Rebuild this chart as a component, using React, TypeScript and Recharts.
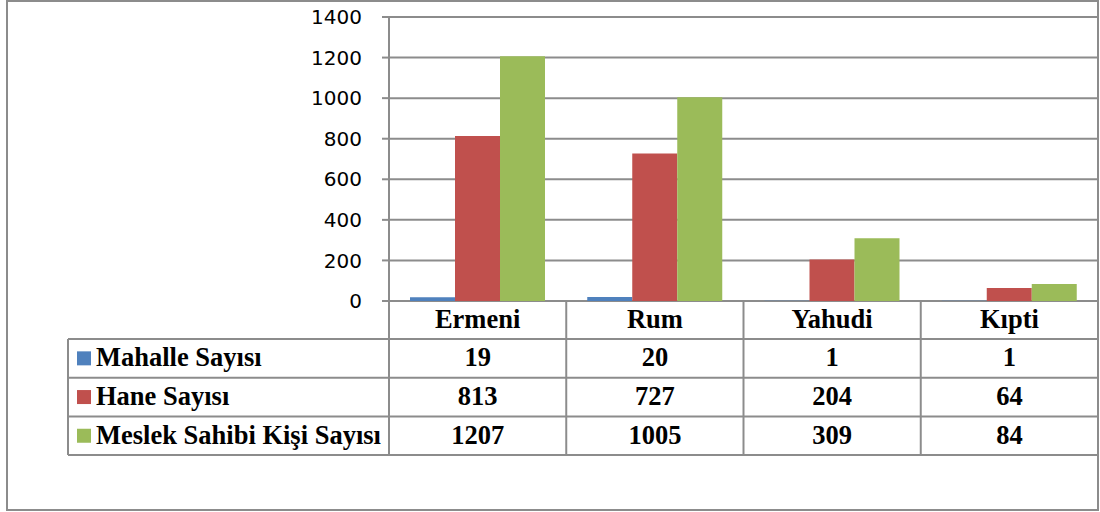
import React from "react";
import { BarChart, Bar, XAxis, YAxis, CartesianGrid } from "recharts";

const categories = ["Ermeni", "Rum", "Yahudi", "Kıpti"];
const mahalleSayisi = [19, 20, 1, 1];
const haneSayisi = [813, 727, 204, 64];
const meslekSahibi = [1207, 1005, 309, 84];
const yTicks = [0, 200, 400, 600, 800, 1000, 1200, 1400];

const series = [
  { key: "mahalle", name: "Mahalle Sayısı", color: "#4F81BD", values: mahalleSayisi },
  { key: "hane", name: "Hane Sayısı", color: "#C0504D", values: haneSayisi },
  { key: "meslek", name: "Meslek Sahibi Kişi Sayısı", color: "#9BBB59", values: meslekSahibi },
];

const data = categories.map((name, i) => ({
  name,
  mahalle: mahalleSayisi[i],
  hane: haneSayisi[i],
  meslek: meslekSahibi[i],
}));

const W = 1100;
const H = 512;
const PLOT_LEFT = 389;
const PLOT_RIGHT = 1098;
const PLOT_TOP = 17;
const PLOT_BOTTOM = 301;
const Y_AXIS_W = 60;
const X_AXIS_H = 160;
const HEADER_H = 38;
const ROW_H = 38.7;
const TABLE_LEFT = 68;
const LINE = "#8c8c8c";
const SERIF = "'Liberation Serif', 'Times New Roman', serif";
const SANS = "'DejaVu Sans', sans-serif";
const TABLE_FONT = 26.5;

const bandW = (PLOT_RIGHT - PLOT_LEFT) / categories.length;

// each x tick draws one column of the data table under the plot
function TableColumnTick(props: any) {
  const { x, payload } = props;
  const i = payload.index;
  const left = x - bandW / 2;
  const right = x + bandW / 2;
  const bottom = PLOT_BOTTOM + HEADER_H + ROW_H * series.length;
  return (
    <g>
      <line x1={right} y1={PLOT_BOTTOM} x2={right} y2={bottom} stroke={LINE} strokeWidth={2} />
      <text
        x={x}
        y={PLOT_BOTTOM + HEADER_H / 2 + 8}
        textAnchor="middle"
        fontFamily={SERIF}
        fontWeight="bold"
        fontSize={TABLE_FONT}
        fill="#000"
      >
        {payload.value}
      </text>
      {series.map((s, r) => (
        <text
          key={s.key}
          x={x}
          y={PLOT_BOTTOM + HEADER_H + ROW_H * r + ROW_H / 2 + 8}
          textAnchor="middle"
          fontFamily={SERIF}
          fontWeight="bold"
          fontSize={TABLE_FONT}
          fill="#000"
        >
          {s.values[i]}
        </text>
      ))}
      {i === 0 && (
        <line x1={left} y1={PLOT_BOTTOM} x2={left} y2={bottom} stroke={LINE} strokeWidth={2} />
      )}
    </g>
  );
}

export default function App() {
  const tableBottom = PLOT_BOTTOM + HEADER_H + ROW_H * series.length;
  return (
    <div style={{ position: "absolute", left: 0, top: 0, width: W, height: H, background: "#fff" }}>
      <div
        style={{
          position: "absolute",
          left: 6,
          top: 0,
          width: 1093,
          height: 511,
          border: `2px solid ${LINE}`,
          boxSizing: "border-box",
        }}
      />
      <div style={{ position: "absolute", left: 0, top: 0 }}>
        <BarChart
          width={W}
          height={H}
          data={data}
          barGap={0}
          barSize={45}
          margin={{
            top: PLOT_TOP,
            right: W - PLOT_RIGHT,
            left: PLOT_LEFT - Y_AXIS_W,
            bottom: H - PLOT_BOTTOM - X_AXIS_H,
          }}
        >
          <CartesianGrid vertical={false} stroke={LINE} strokeWidth={2} />
          <YAxis
            width={Y_AXIS_W}
            domain={[0, 1400]}
            ticks={yTicks}
            interval={0}
            tickSize={7}
            tickMargin={20}
            axisLine={{ stroke: LINE, strokeWidth: 2 }}
            tickLine={{ stroke: LINE, strokeWidth: 2 }}
            tick={{ fill: "#000", fontSize: 20, fontFamily: SANS }}
          />
          <XAxis
            dataKey="name"
            height={X_AXIS_H}
            axisLine={false}
            tickLine={false}
            interval={0}
            tick={<TableColumnTick />}
          />
          {series.map((s) => (
            <Bar key={s.key} dataKey={s.key} name={s.name} fill={s.color} isAnimationActive={false} />
          ))}
        </BarChart>
      </div>
      {/* legend column of the data table */}
      <svg
        width={W}
        height={H}
        style={{ position: "absolute", left: 0, top: 0, pointerEvents: "none" }}
      >
        <line x1={PLOT_LEFT} y1={PLOT_BOTTOM} x2={PLOT_LEFT} y2={tableBottom} stroke={LINE} strokeWidth={2} />
        <line x1={TABLE_LEFT} y1={PLOT_BOTTOM + HEADER_H} x2={TABLE_LEFT} y2={tableBottom} stroke={LINE} strokeWidth={2} />
        {series.map((s, r) => {
          const top = PLOT_BOTTOM + HEADER_H + ROW_H * r;
          return (
            <g key={s.key}>
              <line x1={TABLE_LEFT} y1={top} x2={PLOT_RIGHT} y2={top} stroke={LINE} strokeWidth={2} />
              <rect x={77} y={top + ROW_H / 2 - 7} width={14} height={14} fill={s.color} />
              <text
                x={96}
                y={top + ROW_H / 2 + 8}
                fontFamily={SERIF}
                fontWeight="bold"
                fontSize={TABLE_FONT}
                fill="#000"
              >
                {s.name}
              </text>
            </g>
          );
        })}
        <line x1={TABLE_LEFT} y1={tableBottom} x2={PLOT_RIGHT} y2={tableBottom} stroke={LINE} strokeWidth={2} />
      </svg>
    </div>
  );
}
